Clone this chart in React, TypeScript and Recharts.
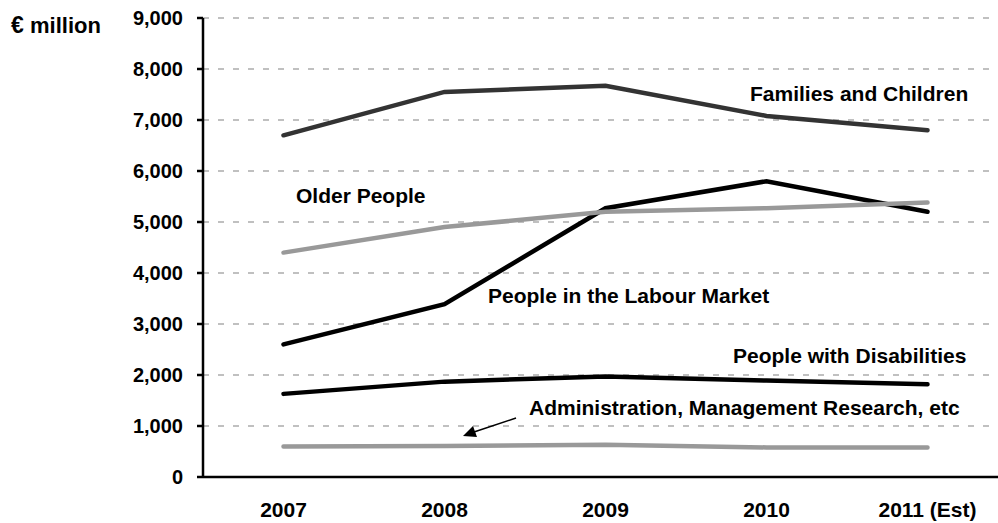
import React from 'react';
import { LineChart, Line, XAxis, YAxis, CartesianGrid } from 'recharts';

const categories = ['2007', '2008', '2009', '2010', '2011 (Est)'];
const families = [6700, 7550, 7670, 7080, 6800];
const olderPeople = [4400, 4900, 5200, 5270, 5380];
const labourMarket = [2600, 3390, 5270, 5800, 5200];
const disabilities = [1630, 1870, 1970, 1890, 1820];
const administration = [600, 610, 630, 580, 580];
const yTicks = [0, 1000, 2000, 3000, 4000, 5000, 6000, 7000, 8000, 9000];

// x is the middle of each category band, bands are 0..5
const data = categories.map((name, i) => ({
  x: i + 0.5,
  name,
  families: families[i],
  older: olderPeople[i],
  labour: labourMarket[i],
  disabilities: disabilities[i],
  admin: administration[i],
}));

const bandEdges = [0, 1, 2, 3, 4, 5];
const bandMiddles = categories.map((_, i) => i + 0.5);

const FONT = '"Liberation Sans", Arial, sans-serif';

const tickStyle = { fontFamily: FONT, fontWeight: 700, fill: '#000' };

const label = (text: string, x: number, y: number, size = 21) => (
  <text x={x} y={y} fontFamily={FONT} fontWeight={700} fontSize={size} fill="#000">
    {text}
  </text>
);

export default function App() {
  return (
    <div
      style={{
        position: 'fixed',
        left: 0,
        top: 0,
        width: 998,
        height: 523,
        overflow: 'hidden',
        background: '#fff',
      }}
    >
      <LineChart width={1010} height={523} data={data} margin={{ top: 18, right: 2, bottom: 0, left: 0 }}>
        <CartesianGrid vertical={false} stroke="#c0c0c0" strokeWidth={2} strokeDasharray="6 9" />
        <XAxis
          xAxisId={0}
          dataKey="x"
          type="number"
          domain={[0, 5]}
          ticks={bandEdges}
          tick={false}
          height={8}
          tickSize={7}
          axisLine={{ stroke: '#000', strokeWidth: 2.5 }}
          tickLine={{ stroke: '#000', strokeWidth: 2.5 }}
        />
        <XAxis
          xAxisId="labels"
          dataKey="x"
          type="number"
          domain={[0, 5]}
          ticks={bandMiddles}
          interval={0}
          tickFormatter={(v: number) => categories[Math.floor(v)]}
          height={38}
          tickSize={0}
          tickMargin={17}
          axisLine={false}
          tickLine={false}
          tick={{ ...tickStyle, fontSize: 21 }}
        />
        <YAxis
          type="number"
          domain={[0, 9000]}
          ticks={yTicks}
          interval={0}
          width={203}
          tickSize={6}
          tickMargin={14}
          tickFormatter={(v: number) => v.toLocaleString('en-US')}
          axisLine={{ stroke: '#000', strokeWidth: 2.5 }}
          tickLine={{ stroke: '#000', strokeWidth: 2.5 }}
          tick={{ ...tickStyle, fontSize: 20 }}
        />
        <Line dataKey="admin" stroke="#999999" strokeWidth={4.5} strokeLinecap="round" dot={false} isAnimationActive={false} />
        <Line dataKey="disabilities" stroke="#000000" strokeWidth={4.5} strokeLinecap="round" dot={false} isAnimationActive={false} />
        <Line dataKey="labour" stroke="#000000" strokeWidth={4.5} strokeLinecap="round" dot={false} isAnimationActive={false} />
        <Line dataKey="older" stroke="#999999" strokeWidth={4.5} strokeLinecap="round" dot={false} isAnimationActive={false} />
        <Line dataKey="families" stroke="#333333" strokeWidth={4.5} strokeLinecap="round" dot={false} isAnimationActive={false} />
      </LineChart>
      <svg width={998} height={523} style={{ position: 'absolute', left: 0, top: 0, pointerEvents: 'none' }}>
        {label('€', 11, 33, 23)}
        {label('million', 30, 33, 22)}
        {label('Families and Children', 750, 101)}
        {label('Older People', 296, 203)}
        {label('People in the Labour Market', 488, 303)}
        {label('People with Disabilities', 733, 363)}
        {label('Administration, Management Research, etc', 529, 415)}
        <line x1={516} y1={418} x2={474} y2={432} stroke="#000" strokeWidth={1.5} />
        <polygon points="463,436 473,426 477,437" fill="#000" />
      </svg>
    </div>
  );
}
